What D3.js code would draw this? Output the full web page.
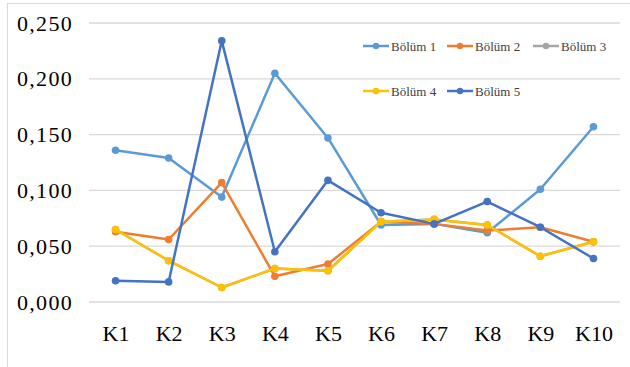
<!DOCTYPE html>
<html>
<head>
<meta charset="utf-8">
<script src="https://cdn.jsdelivr.net/npm/d3@7"></script>
<style>
  body { margin: 0; background: #fff; }
</style>
</head>
<body>
<svg id="chart"></svg>
<script>
const categories = ['K1', 'K2', 'K3', 'K4', 'K5', 'K6', 'K7', 'K8', 'K9', 'K10'];
const seriesNames = ['Bölüm 1', 'Bölüm 2', 'Bölüm 3', 'Bölüm 4', 'Bölüm 5'];
const seriesColors = ['#5B9BD5', '#ED7D31', '#A5A5A5', '#FFC000', '#4472C4'];
const bolum1 = [0.136, 0.129, 0.094, 0.205, 0.147, 0.069, 0.070, 0.062, 0.101, 0.157];
const bolum2 = [0.063, 0.056, 0.107, 0.023, 0.034, 0.072, 0.070, 0.064, 0.067, 0.054];
const bolum3 = [0.065, 0.037, 0.013, 0.030, 0.028, 0.072, 0.074, 0.069, 0.041, 0.054];
const bolum4 = [0.065, 0.037, 0.013, 0.030, 0.028, 0.072, 0.074, 0.069, 0.041, 0.054];
const bolum5 = [0.019, 0.018, 0.234, 0.045, 0.109, 0.080, 0.070, 0.090, 0.067, 0.039];
const yTicks = [0, 0.05, 0.1, 0.15, 0.2, 0.25];

const allValues = [bolum1, bolum2, bolum3, bolum4, bolum5];

const width = 630, height = 367;
const margin = { top: 23, right: 10, bottom: 65, left: 89 };
const serif = '"Liberation Serif"';

const svg = d3.select('#chart')
    .attr('width', width)
    .attr('height', height);

// chart area border
svg.append('rect')
    .attr('x', 7.5).attr('y', 3.5)
    .attr('width', 640).attr('height', 400)
    .attr('fill', 'none')
    .attr('stroke', '#d9d9d9')
    .attr('stroke-width', 1);

const x = d3.scalePoint()
    .domain(categories)
    .range([margin.left, width - margin.right])
    .padding(0.5);

const y = d3.scaleLinear()
    .domain([0, 0.25])
    .range([302, margin.top]);

// gridlines
svg.append('g')
    .selectAll('line')
    .data(yTicks)
    .join('line')
    .attr('x1', margin.left).attr('x2', width - margin.right)
    .attr('y1', d => y(d)).attr('y2', d => y(d))
    .attr('stroke', '#d9d9d9')
    .attr('stroke-width', 1.3);

// y axis labels
const fmt = d => d3.format('.3f')(d).replace('.', ',');
const yAxis = svg.append('g')
    .attr('transform', `translate(${margin.left - 16},0)`)
    .call(d3.axisLeft(y).tickValues(yTicks).tickFormat(fmt).tickSize(0).tickPadding(0));
yAxis.attr('font-family', null);
yAxis.select('.domain').remove();
yAxis.selectAll('text')
    .style('font-family', serif)
    .style('font-size', '22px')
    .style('letter-spacing', '1.3px')
    .attr('fill', '#000');

// x axis labels
const xAxis = svg.append('g')
    .attr('transform', `translate(0,${y(0)})`)
    .call(d3.axisBottom(x).tickSize(0).tickPadding(23));
xAxis.attr('font-family', null);
xAxis.select('.domain').remove();
xAxis.selectAll('text')
    .style('font-family', serif)
    .style('font-size', '22px')
    .attr('fill', '#000');

// lines + markers
const line = d3.line()
    .x((d, i) => x(categories[i]))
    .y(d => y(d));

allValues.forEach((vals, s) => {
    const g = svg.append('g');
    g.append('path')
        .datum(vals)
        .attr('d', line)
        .attr('fill', 'none')
        .attr('stroke', seriesColors[s])
        .attr('stroke-width', 2.5)
        .attr('stroke-linejoin', 'round');
    g.selectAll('circle')
        .data(vals)
        .join('circle')
        .attr('cx', (d, i) => x(categories[i]))
        .attr('cy', d => y(d))
        .attr('r', 3.8)
        .attr('fill', seriesColors[s]);
});

// legend
const legendPos = [[363, 46], [447, 46], [533, 46], [363, 91], [447, 91]];
const legend = svg.append('g');
seriesNames.forEach((name, i) => {
    const [lx, ly] = legendPos[i];
    const item = legend.append('g').attr('transform', `translate(${lx},${ly})`);
    item.append('line')
        .attr('x1', 0).attr('x2', 26)
        .attr('stroke', seriesColors[i])
        .attr('stroke-width', 2.5);
    item.append('circle')
        .attr('cx', 13).attr('r', 3.2)
        .attr('fill', seriesColors[i]);
    item.append('text')
        .attr('x', 28)
        .attr('dy', '0.35em')
        .style('font-family', serif)
        .style('font-size', '13px')
        .attr('fill', '#404040')
        .text(name);
});
</script>
</body>
</html>
